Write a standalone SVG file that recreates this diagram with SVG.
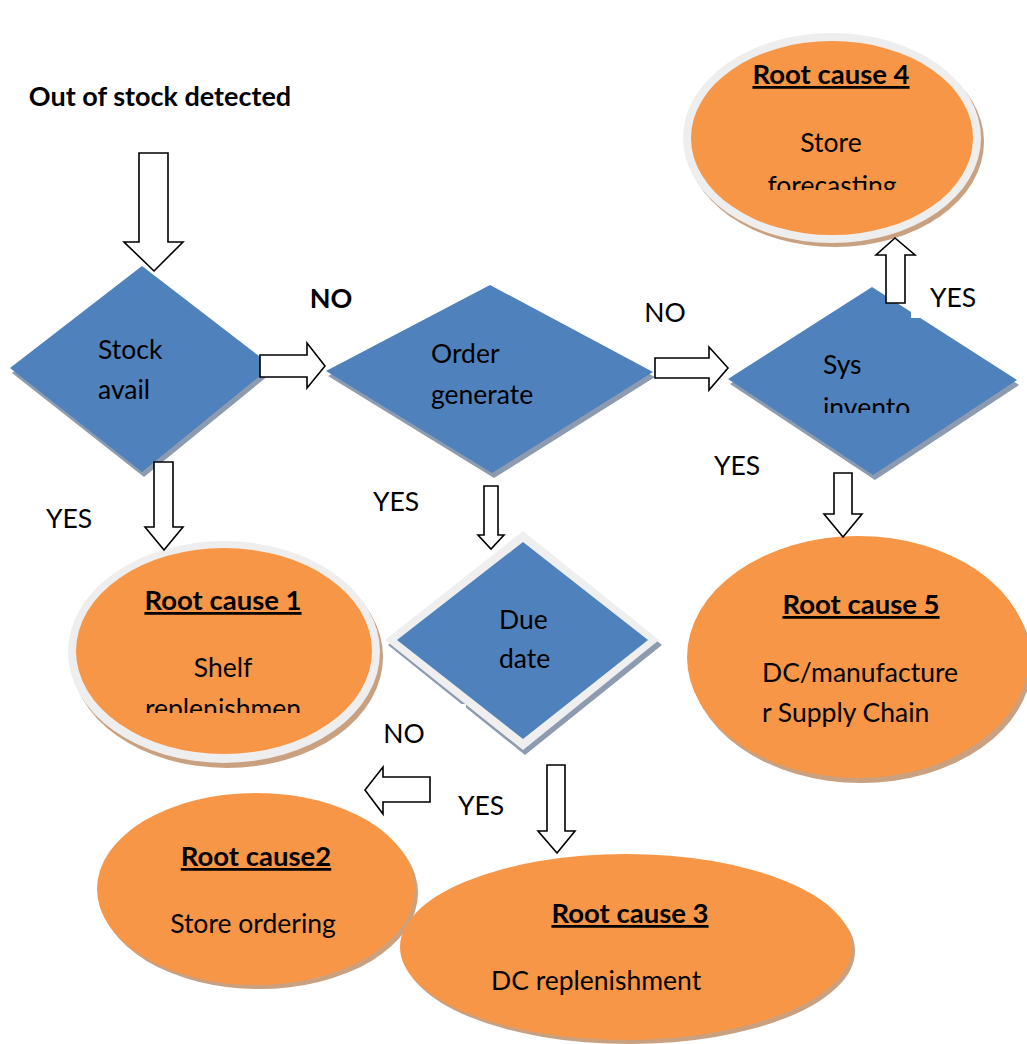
<svg xmlns="http://www.w3.org/2000/svg" width="1027" height="1044" viewBox="0 0 1027 1044">
  <defs>
    <style>
      text { font-family: "Lato", "Open Sans", "Liberation Sans", sans-serif; fill: #000; }
      .lbl { font-size: 26.5px; }
      .bold { font-size: 27px; font-weight: bold; }
      .head { font-size: 27.5px; font-weight: bold; text-decoration: underline; }
      .mid { text-anchor: middle; }
      .dec { fill: #4f81bd; }
      .dec-sh { fill: #8c9bb0; }
      .dec-rim { fill: #efefef; }
      .cause { fill: #f79646; }
      .cause-sh { fill: #c9a181; }
      .cause-rim { fill: #eeeeee; }
      .conn polygon { fill: #ffffff; stroke: #000; stroke-width: 1.6; stroke-linejoin: miter; }
    </style>
    <!-- text boxes that cut off overflowing lines -->
    <clipPath id="clip-rc4"><rect x="700" y="160" width="270" height="30"/></clipPath>
    <clipPath id="clip-rc1"><rect x="90" y="685" width="270" height="28"/></clipPath>
    <clipPath id="clip-sys"><rect x="800" y="385" width="150" height="28"/></clipPath>
  </defs>

  <rect width="1027" height="1044" fill="#ffffff"/>

  <!-- start label -->
  <g id="start">
    <text class="bold" x="160" y="106" text-anchor="middle">Out of stock detected</text>
  </g>

  <!-- decision: stock available -->
  <g id="stock-avail">
    <polygon class="dec-sh" points="144,271 274,371 144,477 12,373"/>
    <polygon class="dec" points="142,266 272,366 142,472 10,368"/>
    <text class="lbl" x="98" y="359">Stock</text>
    <text class="lbl" x="98" y="399">avail</text>
  </g>

  <!-- decision: order generated -->
  <g id="order-generate">
    <polygon class="dec-sh" points="492,290 655,377 494,478 328,376"/>
    <polygon class="dec" points="490,285 653,372 492,473 326,371"/>
    <text class="lbl" x="431" y="363">Order</text>
    <text class="lbl" x="431" y="404">generate</text>
  </g>

  <!-- decision: system inventory -->
  <g id="sys-inventory">
    <polygon class="dec-sh" points="874,292 1019,385 875,480 730,384"/>
    <polygon class="dec" points="872,287 1017,380 873,475 728,379"/>
    <rect x="911" y="278" width="72" height="40" fill="#ffffff"/>
    <text class="lbl" x="823" y="374">Sys</text>
    <text class="lbl" x="823" y="417" clip-path="url(#clip-sys)">invento</text>
  </g>

  <!-- decision: due date -->
  <g id="due-date">
    <polygon class="dec-sh" points="525,536 662,645 525,755 388,645"/>
    <polygon class="dec-rim" points="523,531 659,640 523,750 385,640"/>
    <polygon class="dec" points="523,542 648,640 523,739 397,640"/>
    <rect x="376" y="704" width="90" height="50" fill="#ffffff"/>
    <text class="lbl" x="499" y="629">Due</text>
    <text class="lbl" x="499" y="668">date</text>
  </g>

  <!-- root cause 4 -->
  <g id="root-cause-4">
    <ellipse class="cause-sh" cx="835" cy="142" rx="149" ry="105"/>
    <ellipse class="cause-rim" cx="832" cy="138" rx="149" ry="105"/>
    <ellipse class="cause" cx="832" cy="138" rx="141" ry="97"/>
    <text class="head mid" x="831" y="84">Root cause 4</text>
    <text class="lbl mid" x="831" y="152">Store</text>
    <text class="lbl mid" x="832" y="195" clip-path="url(#clip-rc4)">forecasting</text>
  </g>

  <!-- root cause 1 -->
  <g id="root-cause-1">
    <ellipse class="cause-sh" cx="227" cy="657" rx="156" ry="111"/>
    <ellipse class="cause-rim" cx="224" cy="652" rx="156" ry="111"/>
    <ellipse class="cause" cx="224" cy="651" rx="148" ry="103"/>
    <text class="head mid" x="223" y="610">Root cause 1</text>
    <text class="lbl mid" x="223" y="677">Shelf</text>
    <text class="lbl mid" x="223" y="718" clip-path="url(#clip-rc1)">replenishmen</text>
  </g>

  <!-- root cause 5 -->
  <g id="root-cause-5">
    <ellipse class="cause-sh" cx="861" cy="662" rx="171" ry="121"/>
    <ellipse class="cause" cx="858" cy="657" rx="171" ry="121"/>
    <text class="head mid" x="861" y="614">Root cause 5</text>
    <text class="lbl" x="762" y="682">DC/manufacture</text>
    <text class="lbl" x="762" y="722">r Supply Chain</text>
  </g>

  <!-- root cause 2 -->
  <g id="root-cause-2">
    <ellipse class="cause-sh" cx="259" cy="893" rx="159" ry="96"/>
    <ellipse class="cause" cx="256" cy="889" rx="159" ry="96"/>
    <text class="head mid" x="256" y="866">Root cause2</text>
    <text class="lbl mid" x="253" y="933">Store ordering</text>
  </g>

  <!-- root cause 3 -->
  <g id="root-cause-3">
    <ellipse class="cause-sh" cx="629" cy="951" rx="226" ry="93"/>
    <ellipse class="cause" cx="626" cy="947" rx="226" ry="93"/>
    <text class="head mid" x="630" y="923">Root cause 3</text>
    <text class="lbl" x="491" y="990">DC replenishment</text>
  </g>

  <!-- branch labels -->
  <g id="labels">
    <text class="bold mid" x="331" y="308">NO</text>
    <text class="lbl mid" x="665" y="322">NO</text>
    <text class="lbl mid" x="953" y="307">YES</text>
    <text class="lbl mid" x="737" y="475">YES</text>
    <text class="lbl mid" x="69" y="528">YES</text>
    <text class="lbl mid" x="396" y="511">YES</text>
    <text class="lbl mid" x="404" y="743">NO</text>
    <text class="lbl mid" x="481" y="815">YES</text>
  </g>

  <!-- block arrow connectors -->
  <g id="connectors" class="conn">
    <polygon points="139,153 168,153 168,242 183,242 154,271 124,242 139,242"/>
    <polygon points="260,355 307,355 307,343 325,366 307,388 307,377 260,377"/>
    <polygon points="154,462 173,462 173,527 183,527 164,550 145,527 154,527"/>
    <polygon points="655,358 709,358 709,347 728,368 709,390 709,378 655,378"/>
    <polygon points="886,303 886,255 876,255 895,238 915,255 905,255 905,303"/>
    <polygon points="834,473 852,473 852,514 862,514 843,537 824,514 834,514"/>
    <polygon points="484,486 498,486 498,535 504,535 491,549 478,535 484,535"/>
    <polygon points="430,777 383,777 383,767 365,790 383,814 383,802 430,802"/>
    <polygon points="547,765 565,765 565,831 575,831 557,853 538,831 547,831"/>
  </g>
</svg>
